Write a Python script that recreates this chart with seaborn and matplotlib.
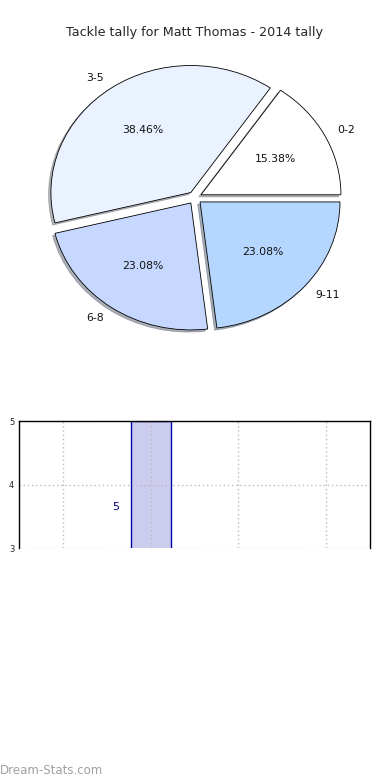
import matplotlib
matplotlib.use("Agg")
import matplotlib.pyplot as plt
import seaborn as sns
import pandas as pd

# pie data
ranges = ['0-2', '3-5', '6-8', '9-11']
tallies = [2, 5, 3, 3]
pie_colors = ['#ffffff', '#eaf2ff', '#c6d8ff', '#b4d6ff']

# lower bar panel
bar_pos = [1]
bar_vals = [5]
bar_label = '5'

sns.set_style("white")
plt.rcParams['font.family'] = ['DejaVu Sans']

fig = plt.figure(figsize=(3.9, 7.8), dpi=100)

# pie chart
ax = fig.add_axes([0.051, 0.543, 0.897, 0.407])
ax.pie(tallies, labels=ranges, colors=pie_colors, explode=[0.05] * 4,
       autopct='%.2f%%', startangle=0,
       shadow=dict(ox=-0.012, oy=-0.012, shade=0.55),
       wedgeprops=dict(edgecolor='black', linewidth=0.6),
       textprops=dict(fontsize=7.8, color='#111111'))
ax.set_aspect('auto')
ax.set_xlim(-1.25, 1.25)
ax.set_ylim(-1.25, 1.25)
ax.set_title('Tackle tally for Matt Thomas - 2014 tally', fontsize=9.2, pad=2)

# bar chart (cut off at the bottom)
ax2 = fig.add_axes([0.049, 0.297, 0.9, 0.163])
df = pd.DataFrame({'pos': bar_pos, 'val': bar_vals})
sns.barplot(data=df, x='pos', y='val', native_scale=True, width=0.455,
            color='#ccccee', edgecolor='#0000aa', linewidth=1, saturation=1, ax=ax2)
ax2.set_xlim(-0.5, 3.5)
ax2.set_ylim(3, 5)
ax2.set_xticks([0, 1, 2, 3])
ax2.set_xticklabels([])
ax2.set_yticks([3, 4, 5])
ax2.set_xlabel('')
ax2.set_ylabel('')
ax2.grid(True, linestyle=(0, (1, 2)), color='#bbbbbb', linewidth=1)
ax2.set_axisbelow(False)
ax2.tick_params(axis='both', direction='in', labelsize=6, length=3, color='#999999')
for side in ['top', 'left', 'right']:
    ax2.spines[side].set_color('black')
    ax2.spines[side].set_linewidth(1)
    ax2.spines[side].set_zorder(4)
ax2.spines['bottom'].set_visible(False)
ax2.text(0.64, 3.65, bar_label, color='#000080', fontsize=8, ha='right', va='center')

fig.text(0.0, 0.004, 'Dream-Stats.com', color='#a0a0a0', fontsize=8.5,
         ha='left', va='bottom')

fig.savefig('out.png', dpi=100)
